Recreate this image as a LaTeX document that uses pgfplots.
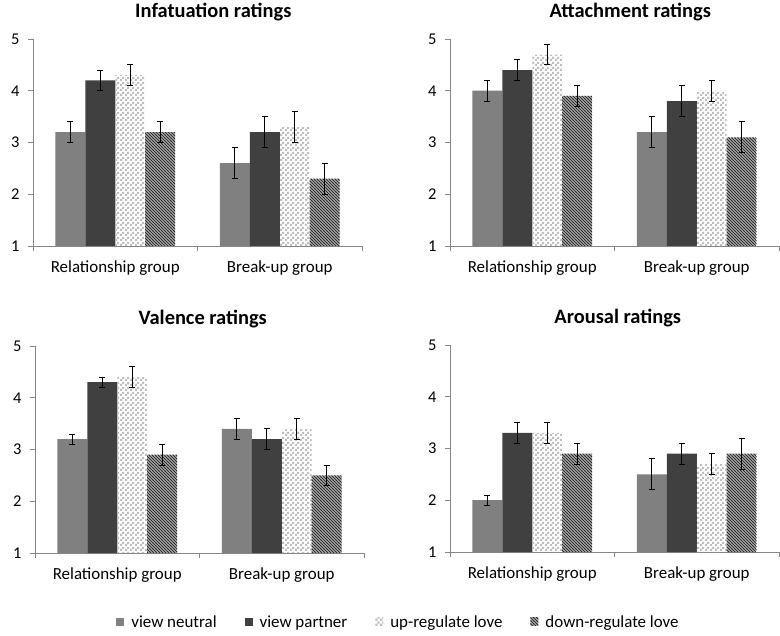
\documentclass[border=0pt]{standalone}
\usepackage{fontspec}
\setmainfont{Carlito}
\usepackage{pgfplots}
\pgfplotsset{compat=1.18}
\usepackage{pgfplotstable}
\usetikzlibrary{patterns}

\definecolor{cneutral}{HTML}{808080}
\definecolor{cpartner}{HTML}{404040}
\definecolor{ccheck}{HTML}{BEBEBE}
\definecolor{cdiag}{HTML}{303030}
\definecolor{axisgray}{HTML}{868686}

\pgfdeclarepatternformonly{finecheck}{\pgfpointorigin}{\pgfqpoint{5bp}{5bp}}{\pgfqpoint{5bp}{5bp}}{%
  \pgfpathrectangle{\pgfpointorigin}{\pgfqpoint{2.5bp}{2.5bp}}%
  \pgfpathrectangle{\pgfqpoint{2.5bp}{2.5bp}}{\pgfqpoint{2.5bp}{2.5bp}}%
  \pgfusepath{fill}}
\pgfdeclarepatternformonly{densenw}{\pgfqpoint{-1bp}{-1bp}}{\pgfqpoint{4bp}{4bp}}{\pgfqpoint{3bp}{3bp}}{%
  \pgfsetlinewidth{1.2bp}%
  \pgfpathmoveto{\pgfqpoint{-0.1bp}{3.1bp}}%
  \pgfpathlineto{\pgfqpoint{3.1bp}{-0.1bp}}%
  \pgfusepath{stroke}}

% x: 0 = Relationship group, 1 = Break-up group
% n = view neutral, p = view partner, u = up-regulate love, d = down-regulate love
\pgfplotstableread{
x n ne p pe u ue d de
0 3.2 0.2 4.2 0.2 4.3 0.2 3.2 0.2
1 2.6 0.3 3.2 0.3 3.3 0.3 2.3 0.3
}\infat
\pgfplotstableread{
x n ne p pe u ue d de
0 4.0 0.2 4.4 0.2 4.7 0.2 3.9 0.2
1 3.2 0.3 3.8 0.3 4.0 0.2 3.1 0.3
}\attach
\pgfplotstableread{
x n ne p pe u ue d de
0 3.2 0.1 4.3 0.1 4.4 0.2 2.9 0.2
1 3.4 0.2 3.2 0.2 3.4 0.2 2.5 0.2
}\valence
\pgfplotstableread{
x n ne p pe u ue d de
0 2.0 0.1 3.3 0.2 3.3 0.2 2.9 0.2
1 2.5 0.3 2.9 0.2 2.7 0.2 2.9 0.3
}\arousal

\pgfplotsset{
  panel/.style={
    width=329bp, height=207bp, scale only axis, anchor=south west,
    xmin=-0.5, xmax=1.5, ymin=1, ymax=5,
    axis x line*=bottom, axis y line*=left,
    axis line style={axisgray, line width=0.8bp, -},
    xtick={-0.5,0.5,1.5}, x tick label as interval,
    xticklabels={Relationship group, Break-up group},
    ytick={1,2,3,4,5},
    tick align=outside, major tick length=5bp,
    tick style={axisgray, line width=0.8bp},
    yticklabel style={font=\fontsize{16.5}{18}\selectfont, xshift=-5bp},
    xticklabel style={font=\fontsize{17}{19}\selectfont, yshift=-6bp},
    /pgf/number format/assume math mode=true,
    ybar, bar width=0.182,
    title style={font=\bfseries\fontsize{20.5}{23}\selectfont, anchor=center, yshift=21bp},
    clip=false,
  },
  errs/.style={error bars/.cd, y dir=both, y explicit,
    error bar style={black, line width=0.9bp},
    error mark options={black, rotate=90, mark size=3bp, line width=0.9bp}},
  sq/.style={legend image code/.code={\fill[##1] (0bp,-4bp) rectangle (8bp,4bp);}},
  sN/.style={fill=cneutral, draw=none, bar shift=-0.273, sq},
  sP/.style={fill=cpartner, draw=none, bar shift=-0.091, sq},
  sU/.style={pattern=finecheck, pattern color=ccheck, draw=none, bar shift=0.091, sq},
  sD/.style={pattern=densenw, pattern color=cdiag, draw=none, bar shift=0.273, sq},
}

\newcommand{\panelplots}[1]{%
  \addplot[sN, errs] table[x=x, y=n, y error=ne] {#1};
  \addplot[sP, errs] table[x=x, y=p, y error=pe] {#1};
  \addplot[sU, errs] table[x=x, y=u, y error=ue] {#1};
  \addplot[sD, errs] table[x=x, y=d, y error=de] {#1};
}

\begin{document}
\begin{tikzpicture}
\useasboundingbox (0bp,0bp) rectangle (780bp,636bp);

\begin{axis}[panel, at={(33bp,390bp)}, title={Infatuation ratings}, title style={at={(0.548,1)}}]
\panelplots{\infat}
\end{axis}

\begin{axis}[panel, at={(450bp,390bp)}, title={Attachment ratings}, title style={at={(0.548,1)}}]
\panelplots{\attach}
\end{axis}

\begin{axis}[panel, at={(35bp,83bp)}, title={Valence ratings}, title style={at={(0.51,1)}},
  legend columns=4,
  legend style={at={(1.105,-0.333)}, anchor=center, draw=none, fill=none,
    font=\fontsize{17}{19}\selectfont,
    /tikz/every even column/.append style={column sep=26bp},
    /tikz/every odd column/.append style={column sep=5bp}}]
\panelplots{\valence}
\legend{view neutral, view partner, up-regulate love, down-regulate love}
\end{axis}

\begin{axis}[panel, at={(450bp,84bp)}, title={Arousal ratings}, title style={at={(0.51,1)}}]
\panelplots{\arousal}
\end{axis}
\end{tikzpicture}
\end{document}
